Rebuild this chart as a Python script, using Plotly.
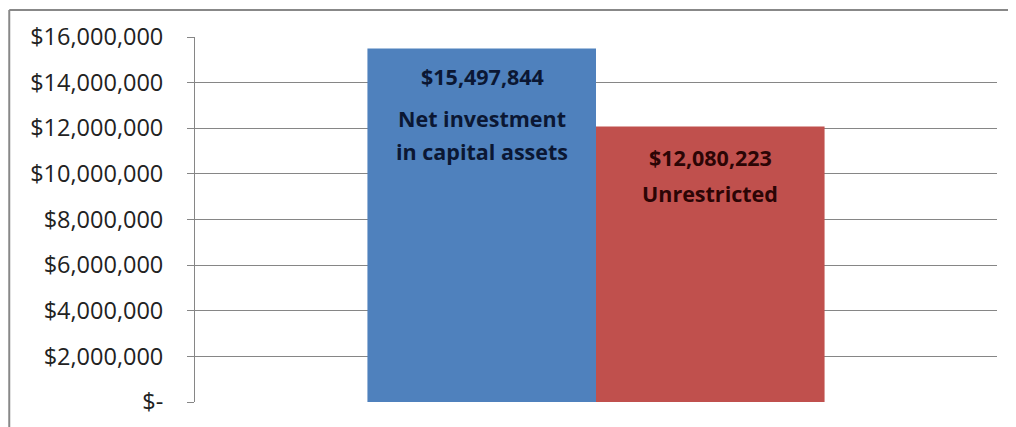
import plotly.graph_objects as go

# Data
series = ['Net investment in capital assets', 'Unrestricted']
values = [15497844, 12080223]
colors = ['#4F81BD', '#C0504D']
label_colors = ['#0b1733', '#2b0505']
label_lines = [['Net investment', 'in capital assets'], ['Unrestricted']]
tick_vals = [0, 2e6, 4e6, 6e6, 8e6, 1e7, 1.2e7, 1.4e7, 1.6e7]
tick_text = ['$-', '$2,000,000', '$4,000,000', '$6,000,000', '$8,000,000',
             '$10,000,000', '$12,000,000', '$14,000,000', '$16,000,000']

fig = go.Figure()
for name, v, c in zip(series, values, colors):
    fig.add_trace(go.Bar(x=[0], y=[v], name=name, marker=dict(color=c, line=dict(width=0)),
                         showlegend=False, hoverinfo='skip'))

# labels inside the bars (pixel offsets below each bar top)
font = dict(family='Open Sans, Liberation Sans, sans-serif', size=21.5, weight='bold')
shifts = [-114, 114]
value_offsets = [-28, -31]
line_offsets = [[-70, -103], [-67]]
for i, (v, lines) in enumerate(zip(values, label_lines)):
    fig.add_annotation(x=0, y=v, xref='x', yref='y', xshift=shifts[i], yshift=value_offsets[i],
                       text=f'${v:,.0f}', showarrow=False, font=dict(font, color=label_colors[i]))
    for line, off in zip(lines, line_offsets[i]):
        fig.add_annotation(x=0, y=v, xref='x', yref='y', xshift=shifts[i], yshift=off,
                           text=line, showarrow=False, font=dict(font, color=label_colors[i]))

# outer chart frame (cut off at right and bottom)
fig.add_shape(type='line', xref='paper', yref='paper', x0=-0.2316, x1=-0.2316, y0=1.074, y1=-0.2,
              line=dict(color='#888888', width=2))
fig.add_shape(type='line', xref='paper', yref='paper', x0=-0.2316, x1=1.2, y0=1.074, y1=1.074,
              line=dict(color='#888888', width=2))

fig.update_layout(
    barmode='group',
    bargap=0.43,
    bargroupgap=0,
    width=1016, height=427,
    margin=dict(l=187, r=27, t=27, b=33),
    plot_bgcolor='white', paper_bgcolor='white',
    xaxis=dict(range=[-0.5, 0.5], showticklabels=False, showgrid=False, zeroline=False,
               showline=False, fixedrange=True),
    yaxis=dict(range=[0, 1.6e7], tickvals=tick_vals, ticktext=tick_text,
               showgrid=True, gridcolor='#868686', gridwidth=1, zeroline=False,
               showline=True, linecolor='#868686', linewidth=1,
               ticks='outside', ticklen=7, tickcolor='#868686', ticklabelstandoff=19,
               tickfont=dict(family='Open Sans, Liberation Sans, sans-serif', size=23.5, color='#222222')),
)

fig.write_html('out.html')
